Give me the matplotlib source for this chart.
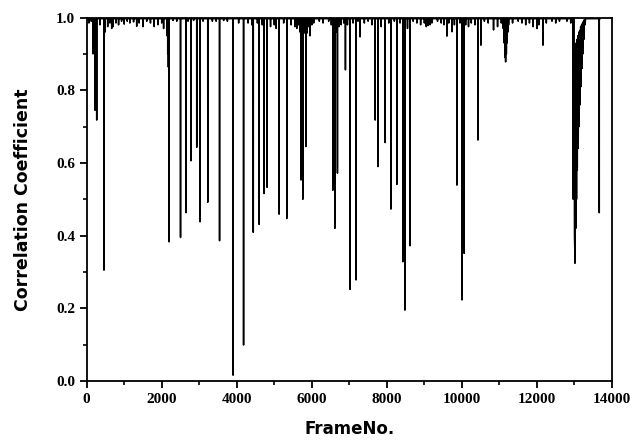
import numpy as np
import matplotlib
matplotlib.use("Agg")
import matplotlib.pyplot as plt
from matplotlib.ticker import MultipleLocator

# frame range and the level the curve sits at between cuts
last_frame = 13680
baseline = 0.997

# deep dips (frame, correlation)
dip_frames = [168, 221, 267, 461, 488, 667, 1333,
              2141, 2160, 2176, 2195, 2501, 2648, 2781, 2933, 3021, 3227, 3541,
              3901, 4181, 4440, 4595, 4728, 4808, 5128, 5333,
              5688, 5715, 5760, 5795, 5840, 5867, 5955,
              6560, 6613, 6683, 6896, 7021, 7181, 7288, 7688, 7760, 7955,
              8107, 8267, 8427, 8480, 8621, 9600, 9733, 9867, 10000, 10061,
              10176, 10427, 10507, 10843,
              11100, 11125, 11150, 11165, 11185, 11205, 11225, 11245, 12160,
              12968, 13661]
dip_values = [0.90, 0.745, 0.718, 0.305, 0.96, 0.97, 0.976,
              0.95, 0.90, 0.864, 0.383, 0.395, 0.463, 0.606, 0.643, 0.438, 0.492, 0.386,
              0.016, 0.099, 0.409, 0.431, 0.516, 0.533, 0.459, 0.447,
              0.96, 0.553, 0.50, 0.96, 0.645, 0.957, 0.95,
              0.525, 0.42, 0.572, 0.856, 0.252, 0.278, 0.947, 0.718, 0.59, 0.656,
              0.473, 0.541, 0.328, 0.195, 0.372, 0.949, 0.961, 0.539, 0.223, 0.351,
              0.975, 0.663, 0.924, 0.966,
              0.97, 0.93, 0.89, 0.878, 0.90, 0.93, 0.96, 0.98, 0.924,
              0.50, 0.463]

# the long slow recovery near frame 13000 (zig-zag of the dark band)
band_frames = [12990, 13000, 13015, 13025, 13035, 13045, 13055, 13065, 13075,
               13090, 13100, 13115, 13125, 13140, 13150, 13165, 13175, 13190,
               13200, 13215, 13225, 13240, 13250, 13265, 13280, 13295]
band_values = [0.98, 0.40, 0.324, 0.90, 0.42, 0.93, 0.50, 0.94, 0.58,
               0.95, 0.64, 0.96, 0.70, 0.965, 0.76, 0.975, 0.81, 0.98,
               0.86, 0.985, 0.90, 0.99, 0.94, 0.995, 0.98, 0.997]

# small jitter along the top
noise_frames = [60, 120, 350, 560, 620, 700, 780, 850, 930, 1000, 1080, 1150, 1250,
                1400, 1500, 1600, 1700, 1800, 1900, 2000, 2050, 2300, 2400, 2700,
                2850, 3100, 3350, 3450, 3650, 3750, 4050, 4300, 4400, 4550, 4680,
                4900, 5000, 5050, 5250, 5450, 5550, 5600, 5650, 5730, 5780, 5820,
                5900, 6000, 6050, 6200, 6300, 6450, 6520, 6640, 6720, 6780, 6850,
                6950, 7100, 7230, 7400, 7500, 7600, 7850, 8050, 8200, 8350, 8550,
                8700, 8800, 8900, 9000, 9050, 9100, 9150, 9200, 9350, 9450, 9520,
                9650, 9800, 9950, 10100, 10250, 10350, 10600, 10700, 10950, 11050,
                11350, 11500, 11600, 11700, 11800, 11900, 12000, 12050, 12250,
                12400, 12500, 12600, 12800, 12900]
noise_values = [0.985, 0.99, 0.98, 0.975, 0.985, 0.975, 0.985, 0.98, 0.99, 0.982,
                0.99, 0.985, 0.988, 0.985, 0.975, 0.99, 0.985, 0.975, 0.98, 0.985,
                0.97, 0.992, 0.99, 0.99, 0.992, 0.99, 0.99, 0.99, 0.992, 0.99,
                0.985, 0.985, 0.98, 0.985, 0.98, 0.975, 0.98, 0.97, 0.985, 0.98,
                0.975, 0.97, 0.98, 0.95, 0.955, 0.96, 0.975, 0.98, 0.985, 0.99,
                0.985, 0.99, 0.98, 0.96, 0.975, 0.98, 0.985, 0.98, 0.985, 0.99,
                0.985, 0.99, 0.98, 0.975, 0.985, 0.99, 0.985, 0.97, 0.99, 0.985,
                0.98, 0.985, 0.975, 0.978, 0.98, 0.985, 0.99, 0.985, 0.98, 0.985,
                0.98, 0.985, 0.98, 0.985, 0.98, 0.99, 0.985, 0.975, 0.985, 0.985,
                0.99, 0.985, 0.98, 0.985, 0.975, 0.97, 0.98, 0.985, 0.99, 0.985,
                0.99, 0.99, 0.985]

frames = np.arange(0, last_frame + 1)
corr = np.full(frames.size, baseline)
corr[noise_frames] = noise_values
corr[dip_frames] = dip_values
corr[band_frames] = band_values
# inside the band only the read samples are kept, so the line joins them directly
keep = (frames < band_frames[0]) | (frames > band_frames[-1]) | np.isin(frames, band_frames)
frames, corr = frames[keep], corr[keep]

fig = plt.figure(figsize=(6.44, 4.42), dpi=100)
ax = fig.add_axes([0.1346, 0.138, 0.8157, 0.8222])

ax.plot(frames, corr, color='black', lw=1.1)

ax.set_xlim(0, 14000)
ax.set_ylim(0, 1.0)
ax.xaxis.set_major_locator(MultipleLocator(2000))
ax.xaxis.set_minor_locator(MultipleLocator(1000))
ax.yaxis.set_major_locator(MultipleLocator(0.2))
ax.yaxis.set_minor_locator(MultipleLocator(0.1))
ax.yaxis.set_major_formatter(plt.FormatStrFormatter('%.1f'))

for s in ax.spines.values():
    s.set_linewidth(1.3)
ax.tick_params(which='major', direction='out', length=5, width=1.3,
               top=False, right=False)
ax.tick_params(which='minor', direction='out', length=3, width=1.2,
               top=False, right=False)

for lab in ax.get_xticklabels() + ax.get_yticklabels():
    lab.set_fontfamily('Liberation Serif')
    lab.set_fontweight('bold')
    lab.set_fontsize(11)

ax.set_xlabel('FrameNo.', fontsize=12, fontweight='bold', family='DejaVu Sans', labelpad=10)
ax.set_ylabel('Correlation Coefficient', fontsize=12.5, fontweight='bold', family='DejaVu Sans', labelpad=17)

fig.savefig('out.png', dpi=100)
